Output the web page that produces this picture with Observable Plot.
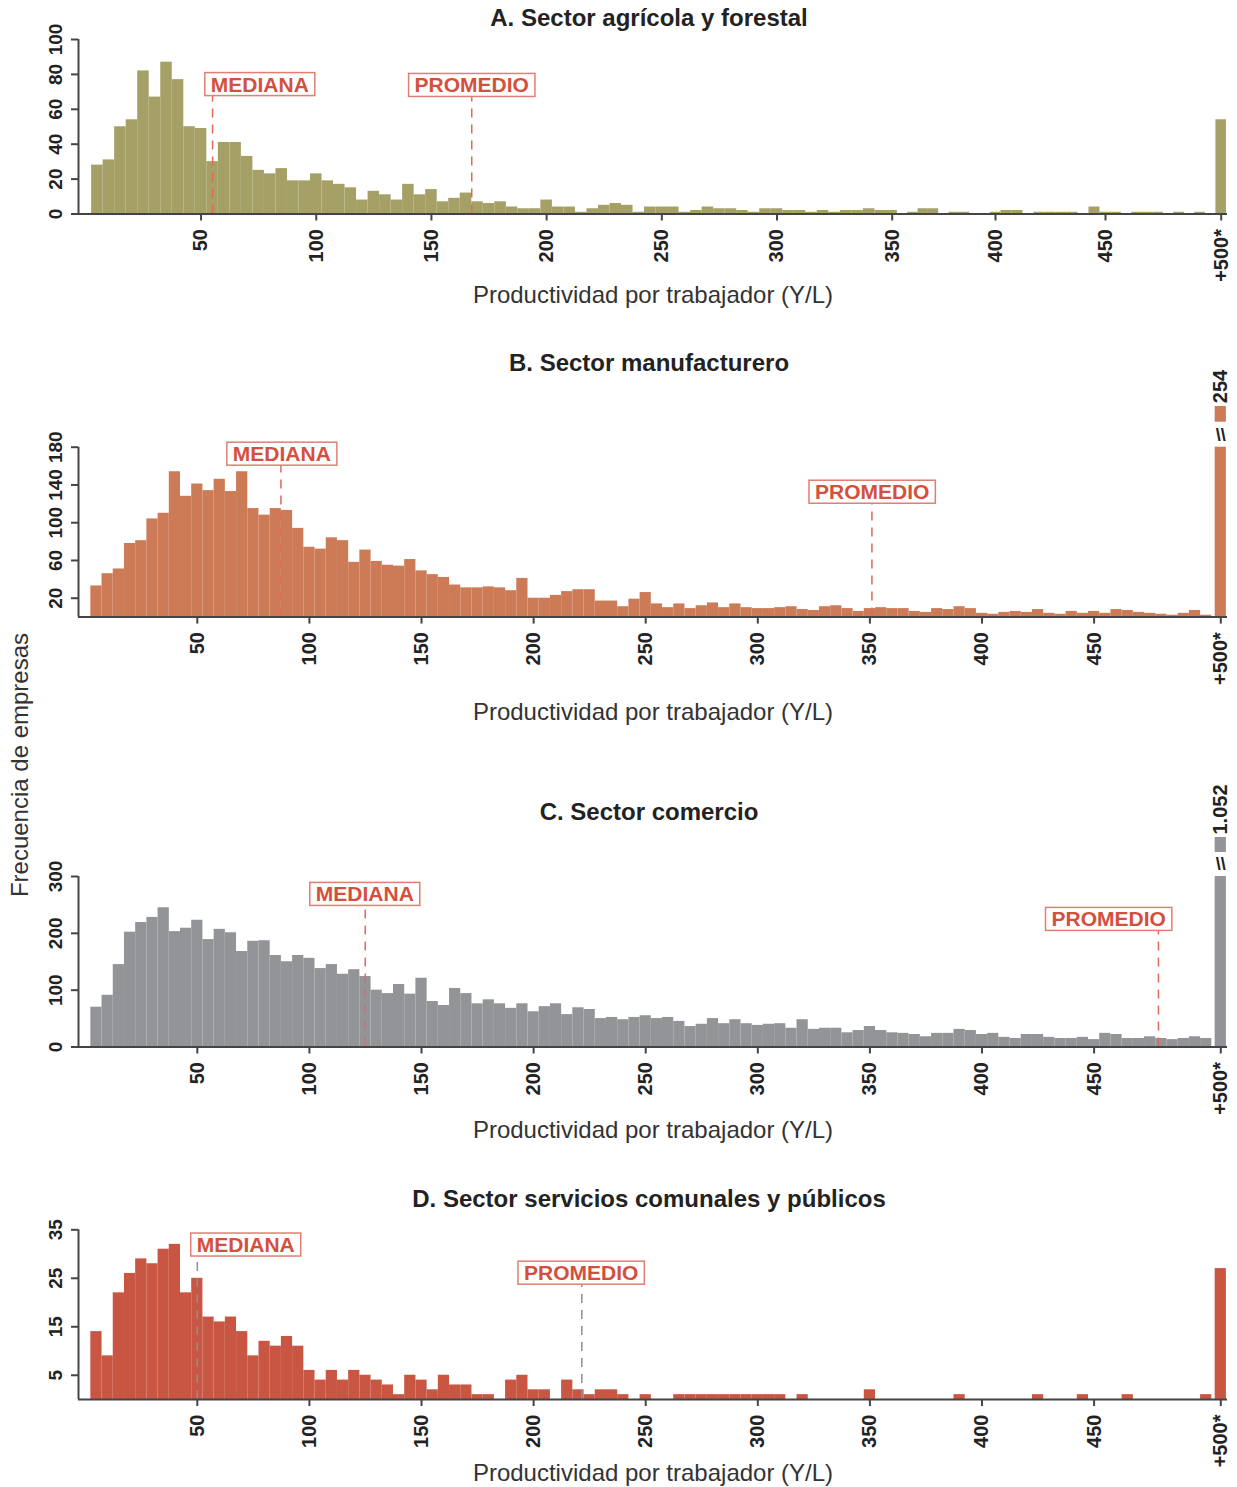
<!DOCTYPE html>
<html>
<head>
<meta charset="utf-8">
<script src="https://cdn.jsdelivr.net/npm/d3@7"></script>
<script src="https://cdn.jsdelivr.net/npm/@observablehq/plot@0.6"></script>
<style>
  body { margin: 0; background: #fff; }
  #wrap { position: relative; width: 1237px; height: 1487px; font-family: "Liberation Sans", Arial, sans-serif; background: #fff; overflow: hidden; }
  #ylab { position: absolute; left: 20px; top: 765px; transform: translate(-50%, -50%) rotate(-90deg); white-space: nowrap; font-size: 24px; color: #333; z-index: 5; }
</style>
</head>
<body>
<div id="wrap"><div id="ylab">Frecuencia de empresas</div></div>
<script>
// ---------- DATA ----------
// bins of width 5, labelled by upper bound 5..500, plus an open "+500*" bin
const binLabels = d3.range(5, 501, 5);
const binWidth = 5;
const xTickValues = [50, 100, 150, 200, 250, 300, 350, 400, 450];
const overLabel = "+500*";
const xAxisTitle = "Productividad por trabajador (Y/L)";

const titleA = "A. Sector agrícola y forestal";
const countsA = [
  28,31,50,54,82,67,87,77,50,49,
  30,41,41,33,25,23,26,19,19,23,
  19,17,15,8,13,11,8,17,11,14,
  7,9,12,7,6,7,4,3,3,8,
  4,4,1,3,5,6,5,1,4,4,
  4,1,2,4,3,3,2,1,3,3,
  2,2,1,2,1,2,2,3,2,2,
  0,1,3,3,0,1,1,0,0,1,
  2,2,0,1,1,1,1,0,4,1,
  1,0,1,1,1,0,1,0,1,0
];
const overA = 54;
const yTicksA = [0, 20, 40, 60, 80, 100];
const medianA = 55, meanA = 167.5;

const titleB = "B. Sector manufacturero";
const countsB = [
  33,46,51,78,81,104,110,154,128,141,
  134,146,133,154,115,108,115,113,94,74,
  72,84,81,58,71,59,55,54,61,49,
  45,42,34,31,31,32,31,28,41,20,
  20,23,27,29,29,17,17,11,19,26,
  14,10,14,9,12,15,10,14,10,9,
  9,10,11,8,7,11,12,9,6,9,
  10,9,9,6,5,9,8,11,9,4,
  3,5,6,5,8,4,3,6,4,6,
  4,8,7,5,4,3,2,4,7,2
];
const overB = 254;
const yTicksB = [20, 60, 100, 140, 180];
const medianB = 87.3, meanB = 350.9;

const titleC = "C. Sector comercio";
const countsC = [
  70,91,145,202,219,228,245,203,209,223,
  189,207,201,168,186,187,161,150,161,156,
  138,145,128,136,124,100,94,110,93,121,
  80,73,103,94,76,83,76,68,76,62,
  71,76,57,69,66,50,52,48,52,55,
  50,52,45,36,40,50,41,48,41,38,
  40,41,33,48,31,33,33,25,29,36,
  29,25,24,22,18,24,24,31,29,22,
  24,17,15,22,22,17,15,15,17,13,
  24,22,15,15,18,15,13,15,18,15
];
const overC = 1052;
const yTicksC = [0, 100, 200, 300];
const medianC = 124.9, meanC = 478.7;

const titleD = "D. Sector servicios comunales y públicos";
const countsD = [
  14,9,22,26,29,28,31,32,22,25,
  17,16,17,14,9,12,11,13,11,6,
  4,6,4,6,5,4,3,1,5,4,
  2,5,3,3,1,1,0,4,5,2,
  2,0,4,2,1,2,2,1,0,1,
  0,0,1,1,1,1,1,1,1,1,
  1,1,0,1,0,0,0,0,0,2,
  0,0,0,0,0,0,0,1,0,0,
  0,0,0,0,1,0,0,0,1,0,
  0,0,1,0,0,0,0,0,0,1
];
const overD = 27;
const yTicksD = [5, 15, 25, 35];
const medianD = 50, meanD = 221.5;

// ---------- LAYOUT / STYLE ----------
const axisColor = "#444";
const annRed = "#d4503e";
const annBox = "#e07f72";
const breakGlyph = "\\\\";
const fmtEs = d3.formatLocale({decimal: ",", thousands: ".", grouping: [3], currency: ["", ""]}).format(",");

const panels = [
  {
    title: titleA, counts: countsA, over: overA, yTicks: yTicksA, yMax: 100, color: "#a5a066",
    top: 0, height: 320, mt: 39, mb: 106.5, titleDy: -21, xLabelDy: 81.5,
    xDomain: [-3.2, 350, 400, 450, 508], xRange: [78, 891.7, 995, 1105, 1227], overPos: 505,
    dash: "#e06a5a",
    ann: [{text: "MEDIANA", line: medianA, x: 75.5, y: 74}, {text: "PROMEDIO", line: meanA, x: 167.5, y: 73.5}]
  },
  {
    title: titleB, counts: countsB, over: overB, yTicks: yTicksB, yMax: 180, color: "#cd7b57",
    top: 320, height: 420, mt: 126.7, mb: 123.4, titleDy: -83.7, xLabelDy: 95.4,
    xDomain: [-3, 509.5], xRange: [78, 1227], overPos: 506.5,
    brk: {segTop: -40.7, segBottom: 25, slashDy: -12, labelDy: -44},
    dash: "#e06a5a",
    ann: [{text: "MEDIANA", line: medianB, x: 87.7, y: 172.3}, {text: "PROMEDIO", line: meanB, x: 351, y: 132}]
  },
  {
    title: titleC, counts: countsC, over: overC, yTicks: yTicksC, yMax: 300, color: "#939497",
    top: 740, height: 400, mt: 136, mb: 93.5, titleDy: -64, xLabelDy: 83.5,
    xDomain: [-3, 509.5], xRange: [78, 1227], overPos: 506.5,
    brk: {segTop: -39, segBottom: 24, slashDy: -12, labelDy: -42},
    dash: "#e06a5a",
    ann: [{text: "MEDIANA", line: medianC, x: 124.7, y: 268}, {text: "PROMEDIO", line: meanC, x: 456.5, y: 224}]
  },
  {
    title: titleD, counts: countsD, over: overD, yTicks: yTicksD, yMax: 35, color: "#c85643",
    top: 1140, height: 347, mt: 89.3, mb: 88, titleDy: -30.3, xLabelDy: 74,
    xDomain: [-3, 509.5], xRange: [78, 1227], overPos: 506.5,
    dash: "#8f8f8f",
    ann: [{text: "MEDIANA", line: medianD, x: 71.6, y: 31.8}, {text: "PROMEDIO", line: meanD, x: 221.2, y: 26}]
  }
];

const wrap = document.getElementById("wrap");

function drawPanel(p) {
  const rows = binLabels.map((b, i) => ({bin: b, count: p.counts[i]}));
  const over = [{bin: p.overPos, count: Math.min(p.over, p.yMax), full: p.over}];
  const x1 = d => d.bin - binWidth / 2;
  const x2 = d => d.bin + binWidth / 2;
  const xTicks = xTickValues.map(v => ({v, t: String(v)})).concat([{v: p.overPos, t: overLabel}]);

  const marks = [
    Plot.rect(rows, {x1, x2, y1: 0, y2: "count", fill: p.color}),
    Plot.rect(over, {x1, x2, y1: 0, y2: "count", fill: p.color})
  ];
  if (p.over > p.yMax) {
    marks.push(
      Plot.rect(over, {x1, x2, y1: () => p.yMax, y2: () => p.yMax, insetTop: p.brk.segTop, insetBottom: p.brk.segBottom, fill: p.color}),
      Plot.text(over, {x: "bin", y: () => p.yMax, text: () => breakGlyph, dy: p.brk.slashDy, fontSize: 18, fontWeight: "bold", fill: "#222"}),
      Plot.text(over, {x: "bin", y: () => p.yMax, text: d => fmtEs(d.full), rotate: -90, textAnchor: "start", dy: p.brk.labelDy, fontSize: 20, fontWeight: "bold", fill: "#222"})
    );
  }
  marks.push(
    Plot.ruleX(p.ann, {x: "line", y1: 0, y2: "y", stroke: p.dash, strokeWidth: 1.5, strokeDasharray: "9,7"}),
    Plot.ruleY([0], {stroke: axisColor, strokeWidth: 2}),
    Plot.ruleX([p.xDomain[0]], {stroke: axisColor, strokeWidth: 2}),
    Plot.axisX(xTicks.map(d => d.v), {tickSize: 7, tickFormat: () => "", stroke: axisColor, strokeWidth: 2, label: null}),
    Plot.axisY(p.yTicks, {tickSize: 7, tickFormat: () => "", stroke: axisColor, strokeWidth: 2, label: null}),
    Plot.text(xTicks, {x: "v", text: "t", frameAnchor: "bottom", dy: 15, rotate: -90, textAnchor: "end", lineAnchor: "middle", fontSize: 20, fontWeight: "bold", fill: "#222"}),
    Plot.text(p.yTicks, {y: d => d, text: d => String(d), frameAnchor: "left", dx: -23, rotate: -90, textAnchor: "middle", lineAnchor: "middle", fontSize: 19, fontWeight: "bold", fill: "#222"}),
    Plot.text([p.title], {text: d => d, frameAnchor: "top", dy: p.titleDy, dx: -4, lineAnchor: "middle", fontSize: 24, fontWeight: "bold", fill: "#222"}),
    Plot.text([xAxisTitle], {text: d => d, frameAnchor: "bottom", dy: p.xLabelDy, lineAnchor: "middle", fontSize: 24, fill: "#333"}),
    Plot.text(p.ann, {x: "x", y: "y", text: "text", fill: annRed, fontSize: 21, fontWeight: "bold"})
  );

  const svg = Plot.plot({
    width: 1237,
    height: p.height,
    marginLeft: 78,
    marginRight: 10,
    marginTop: p.mt,
    marginBottom: p.mb,
    x: {type: "linear", domain: p.xDomain, range: p.xRange},
    y: {domain: [0, p.yMax]},
    style: {fontFamily: "'Liberation Sans', Arial, sans-serif", fontSize: "20px", color: "#222", background: "transparent", overflow: "visible"},
    marks
  });
  svg.style.position = "absolute";
  svg.style.left = "0px";
  svg.style.top = p.top + "px";
  wrap.appendChild(svg);

  // framed boxes behind the MEDIANA / PROMEDIO labels
  svg.querySelectorAll("text").forEach(t => {
    const s = t.textContent;
    if (s === "MEDIANA" || s === "PROMEDIO") {
      const b = t.getBBox();
      const r = document.createElementNS("http://www.w3.org/2000/svg", "rect");
      r.setAttribute("x", b.x - 6);
      r.setAttribute("y", b.y);
      r.setAttribute("width", b.width + 12);
      r.setAttribute("height", b.height);
      r.setAttribute("fill", "#fff");
      r.setAttribute("stroke", annBox);
      r.setAttribute("stroke-width", 1.5);
      const tr = t.getAttribute("transform");
      if (tr) r.setAttribute("transform", tr);
      t.parentNode.insertBefore(r, t);
    }
  });
}

panels.forEach(drawPanel);
</script>
</body>
</html>
